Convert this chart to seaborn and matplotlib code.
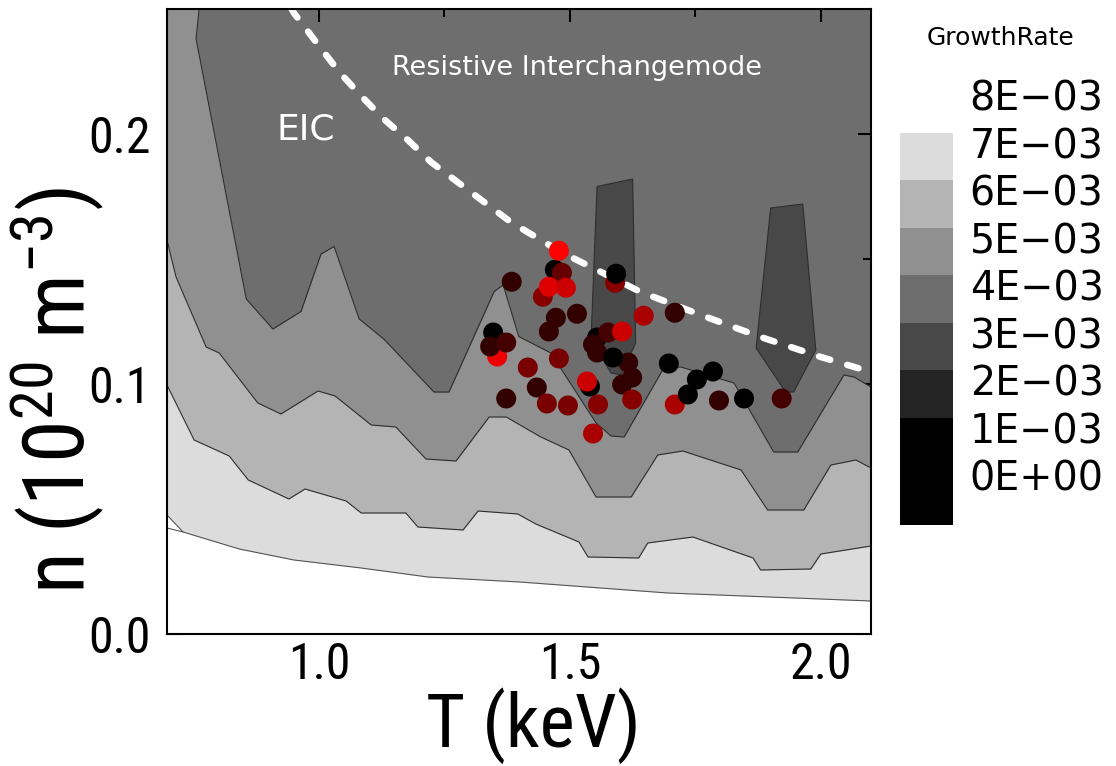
import numpy as np
import pandas as pd
import matplotlib
matplotlib.use("Agg")
import matplotlib.pyplot as plt
import seaborn as sns
from matplotlib import font_manager
from matplotlib.colors import ListedColormap, BoundaryNorm, LinearSegmentedColormap
from matplotlib.cm import ScalarMappable
from matplotlib.transforms import ScaledTranslation

# ---------------- data ----------------
# contour-region boundaries (T in keV, n in 1e20 m^-3)
T_b45 = [0.697, 0.761, 0.755, 0.855, 0.908, 0.964, 1.004, 1.030, 1.080, 1.129, 1.229, 1.259,
         1.349, 1.367, 1.398, 1.462, 1.552, 1.582, 1.608, 1.687, 1.721, 1.827, 1.906, 1.954,
         2.046, 2.066, 2.100]
n_b45 = [0.250, 0.250, 0.238, 0.134, 0.122, 0.129, 0.152, 0.155, 0.126, 0.118, 0.0968, 0.0968,
         0.137, 0.1396, 0.119, 0.1124, 0.0844, 0.0792, 0.0788, 0.1064, 0.1068, 0.1004, 0.0728, 0.0728,
         0.1036, 0.1028, 0.0988]

T_b56 = [0.697, 0.715, 0.775, 0.801, 0.878, 0.924, 0.998, 1.032, 1.104, 1.153, 1.213, 1.273,
         1.339, 1.373, 1.442, 1.498, 1.552, 1.622, 1.675, 1.725, 1.841, 1.894, 1.966, 2.020,
         2.070, 2.100]
n_b56 = [0.1576, 0.1428, 0.1148, 0.1124, 0.0924, 0.0880, 0.0972, 0.0952, 0.0836, 0.0828, 0.0700, 0.0692,
         0.0868, 0.0868, 0.0788, 0.0736, 0.0548, 0.0548, 0.0716, 0.0732, 0.0656, 0.0496, 0.0496, 0.0676,
         0.0696, 0.0664]

T_b67 = [0.697, 0.751, 0.821, 0.859, 0.940, 0.972, 1.054, 1.084, 1.173, 1.197, 1.287, 1.317,
         1.396, 1.432, 1.518, 1.536, 1.637, 1.655, 1.745, 1.865, 1.880, 1.980, 2.000, 2.100]
n_b67 = [0.0996, 0.0776, 0.0712, 0.0616, 0.0540, 0.0580, 0.0532, 0.0484, 0.0484, 0.0428, 0.0416, 0.0492,
         0.0480, 0.0440, 0.0368, 0.0308, 0.0304, 0.0364, 0.0388, 0.0304, 0.0256, 0.0260, 0.0320, 0.0352]

T_b7 = [0.697, 0.729, 0.841, 0.950, 1.084, 1.217, 1.400, 1.695, 2.100]
n_b7 = [0.0476, 0.0408, 0.0340, 0.0296, 0.0264, 0.0228, 0.0208, 0.0164, 0.0132]
T_b8 = [0.697, 0.729]
n_b8 = [0.0424, 0.0408]

T_tongue1 = [1.542, 1.554, 1.625, 1.631, 1.602, 1.582]
n_tongue1 = [0.1176, 0.179, 0.182, 0.1164, 0.1036, 0.1044]
T_tongue2 = [1.871, 1.900, 1.964, 1.990, 1.946, 1.930]
n_tongue2 = [0.1144, 0.1704, 0.172, 0.1136, 0.0968, 0.0968]

# dashed boundary curve
T_dash = [0.944, 0.950, 1.000, 1.042, 1.086, 1.129, 1.177, 1.223, 1.297, 1.382, 1.482, 1.562,
          1.641, 1.761, 1.880, 2.000, 2.100]
n_dash = [0.2505, 0.2484, 0.2352, 0.2244, 0.2148, 0.2060, 0.1976, 0.1888, 0.1776, 0.1648, 0.1528, 0.1448,
          0.1368, 0.1276, 0.1188, 0.1108, 0.1048]

# scatter points (drawing order: later on top); redness 0 = black, 1 = pure red
pt_T = [1.446, 1.470, 1.484, 1.458, 1.492, 1.478,
        1.384, 1.514, 1.472, 1.458,
        1.355, 1.347, 1.341, 1.373,
        1.416, 1.478, 1.434, 1.373, 1.454, 1.496,
        1.590, 1.592, 1.647,
        1.554, 1.546, 1.576, 1.604, 1.554, 1.616, 1.624, 1.604, 1.586,
        1.540, 1.534, 1.556, 1.624, 1.546,
        1.709, 1.697, 1.785, 1.753, 1.735, 1.797, 1.847, 1.922, 1.709]
pt_n = [0.1349, 0.1457, 0.1445, 0.1389, 0.1385, 0.1533,
        0.1409, 0.1281, 0.1265, 0.1210,
        0.1110, 0.1206, 0.1150, 0.1166,
        0.1066, 0.1102, 0.0986, 0.0942, 0.0922, 0.0914,
        0.1405, 0.1441, 0.1273,
        0.1186, 0.1158, 0.1206, 0.1210, 0.1126, 0.1086, 0.1026, 0.0998, 0.1106,
        0.0990, 0.1010, 0.0918, 0.0938, 0.0802,
        0.0918, 0.1082, 0.1050, 0.1018, 0.0958, 0.0934, 0.0942, 0.0942, 0.1285]
pt_red = [0.53, 0.0, 0.40, 0.87, 0.80, 1.0,
          0.20, 0.20, 0.20, 0.20,
          0.93, 0.0, 0.20, 0.27,
          0.47, 0.47, 0.20, 0.20, 0.47, 0.47,
          0.53, 0.0, 0.67,
          0.0, 0.20, 0.27, 0.80, 0.20, 0.20, 0.20, 0.20, 0.0,
          0.0, 0.80, 0.53, 0.53, 0.67,
          0.67, 0.0, 0.0, 0.0, 0.0, 0.20, 0.0, 0.27, 0.20]

# colour scale
levels = [0.000, 0.001, 0.002, 0.003, 0.004, 0.005, 0.006, 0.007, 0.008]
level_labels = ["0E+00", "1E\u221203", "2E\u221203", "3E\u221203", "4E\u221203",
                "5E\u221203", "6E\u221203", "7E\u221203", "8E\u221203"]
level_colors = ["#000000", "#242424", "#484848", "#6e6e6e", "#909090", "#b4b4b4", "#dcdcdc", "#ffffff"]

# ---------------- styling ----------------
sns.set_style("ticks")
names = {f.name for f in font_manager.fontManager.ttflist}
narrow = "Roboto Condensed" if "Roboto Condensed" in names else "Liberation Sans"
plt.rcParams["font.family"] = [narrow, "DejaVu Sans"]
plt.rcParams["mathtext.fontset"] = "custom"
plt.rcParams["mathtext.rm"] = narrow
plt.rcParams["mathtext.it"] = narrow
plt.rcParams["mathtext.bf"] = narrow
plt.rcParams["axes.unicode_minus"] = True
for k in ["text.color", "axes.labelcolor", "xtick.color", "ytick.color", "axes.edgecolor"]:
    plt.rcParams[k] = "black"

fig = plt.figure(figsize=(11.16, 7.66), dpi=100)
ax = fig.add_axes([167 / 1116, (766 - 634) / 766, 704 / 1116, 625 / 766])

ax.set_facecolor(level_colors[3])
edge = "#2e2e2e"
for Tt, nt in [(T_tongue1, n_tongue1), (T_tongue2, n_tongue2)]:
    ax.fill(Tt, nt, facecolor=level_colors[2], edgecolor=edge, lw=0.8, zorder=1)

ax.fill_between(T_b45, 0, n_b45, color=level_colors[4], lw=0, zorder=2)
ax.plot(T_b45[1:], n_b45[1:], color=edge, lw=0.8, zorder=2.1)
ax.fill_between(T_b56, 0, n_b56, color=level_colors[5], lw=0, zorder=3)
ax.plot(T_b56, n_b56, color=edge, lw=0.8, zorder=3.1)
ax.fill_between(T_b67, 0, n_b67, color=level_colors[6], lw=0, zorder=3.2)
ax.plot(T_b67, n_b67, color=edge, lw=0.8, zorder=3.3)
ax.fill_between(T_b7, 0, n_b7, color="white", lw=0, zorder=3.4)
ax.plot(T_b7, n_b7, color="#555555", lw=0.8, zorder=3.5)
ax.plot(T_b8, n_b8, color="#555555", lw=0.8, zorder=3.5)

# dashed curve
sns.lineplot(x=T_dash, y=n_dash, ax=ax, color="white", lw=4.7, sort=False,
             estimator=None, zorder=5)
dl = ax.lines[-1]
dl.set_dashes([1.8, 2.7])
dl.set_dash_capstyle("round")

# scatter
pts = pd.DataFrame({"T": pt_T, "n": pt_n, "red": pt_red})
br = LinearSegmentedColormap.from_list("blackred", ["#000000", "#ff0000"])
sns.scatterplot(data=pts, x="T", y="n", hue="red", palette=br, hue_norm=(0, 1),
                s=207, linewidth=0, legend=False, ax=ax, zorder=6)

ax.text(1.514, 0.2263, "Resistive Interchangemode", color="white", fontsize=19.5,
        ha="center", va="center", family="DejaVu Sans", zorder=7)
ax.text(0.974, 0.2016, "EIC", color="white", fontsize=26, ha="center", va="center",
        family="DejaVu Sans", zorder=7)

ax.set_xlim(0.697, 2.1)
ax.set_ylim(0, 0.25)
ax.set_xticks([1.0, 1.5, 2.0])
ax.set_xticklabels(["1.0", "1.5", "2.0"])
ax.set_xticks([0.75, 1.25, 1.75], minor=True)
ax.set_yticks([0.0, 0.1, 0.2])
ax.set_yticklabels(["0.0", "0.1", "0.2"])
ax.set_yticks([0.05, 0.15], minor=True)
ax.tick_params(which="both", direction="in", top=True, right=True, width=1.5, color="black")
ax.tick_params(which="major", length=9.5, labelsize=36)
ax.tick_params(axis="x", which="major", pad=5)
ax.tick_params(axis="y", which="major", pad=12)
ax.tick_params(which="minor", length=6)
for s in ax.spines.values():
    s.set_linewidth(1.5)
    s.set_color("black")
    s.set_zorder(10)

ax.set_xlabel("T (keV)", fontsize=54)
ax.set_ylabel(r"n (10$^{20}$ m$^{-3}$)", fontsize=62)
ax.xaxis.set_label_coords(0.52, -0.085)
ax.yaxis.set_label_coords(-0.085, 0.39)

# colour bar
cax = fig.add_axes([900 / 1116, (766 - 525) / 766, 53 / 1116, (525 - 85) / 766])
bounds = [-0.00126] + levels
cb_colors = ["#000000"] + level_colors
cmap = ListedColormap(cb_colors)
norm = BoundaryNorm(bounds, cmap.N)
cb = fig.colorbar(ScalarMappable(norm=norm, cmap=cmap), cax=cax, boundaries=bounds,
                  spacing="proportional", ticks=levels)
cb.outline.set_visible(False)
cax.minorticks_off()
cax.set_yticks(levels)
cax.set_yticklabels(level_labels, fontfamily="DejaVu Sans")
cax.tick_params(length=0, labelsize=28.5, pad=12)
off = ScaledTranslation(0, -10 / 100, fig.dpi_scale_trans)
for t in cax.get_yticklabels():
    t.set_transform(t.get_transform() + off)

fig.text(1000 / 1116, 1 - 38 / 766, "GrowthRate", ha="center", va="center",
         fontsize=18, family="DejaVu Sans")

fig.savefig("out.png", dpi=100)
